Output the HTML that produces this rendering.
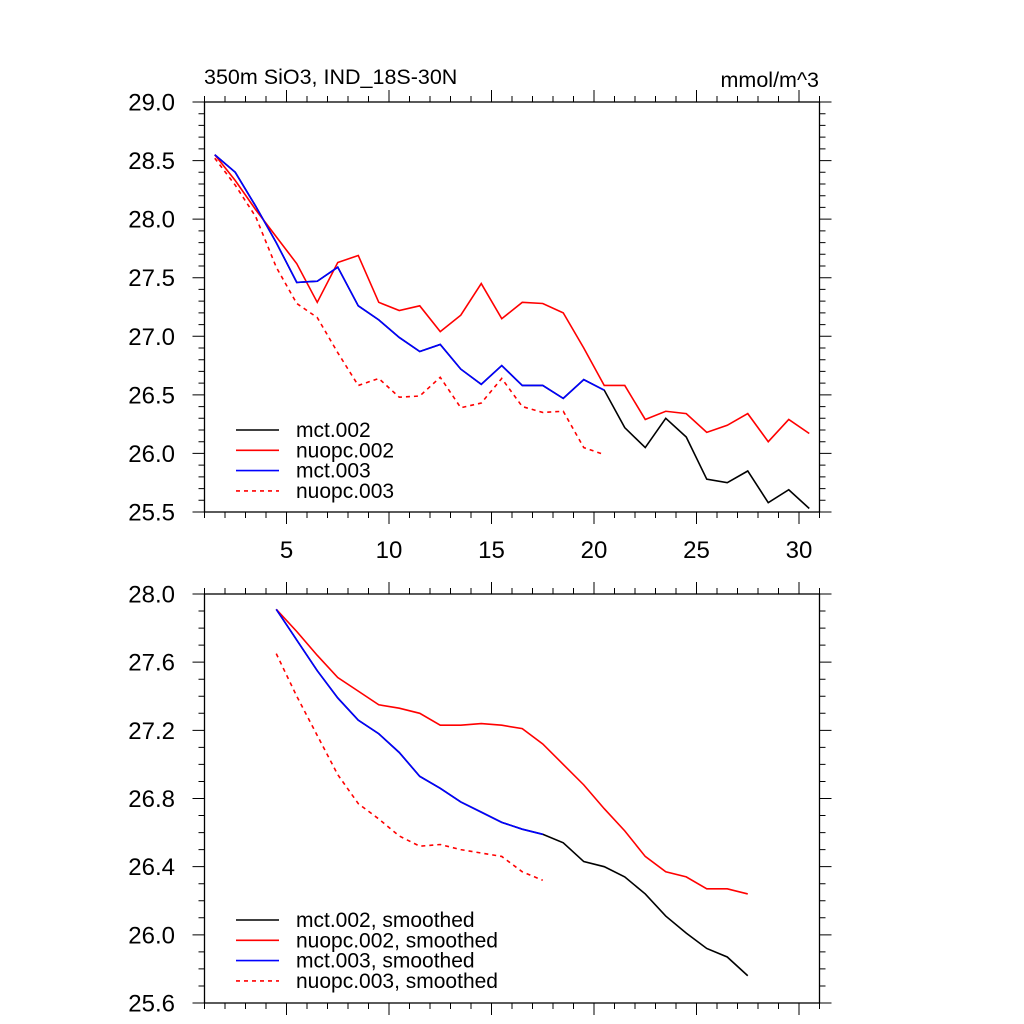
<!DOCTYPE html>
<html><head><meta charset="utf-8"><style>
html,body{margin:0;padding:0;background:#fff;}
svg{display:block;font-family:"Liberation Sans",Arial,sans-serif;}
</style></head><body>
<svg id="chart" width="1024" height="1024" viewBox="0 0 1024 1024" xmlns="http://www.w3.org/2000/svg">
<rect width="1024" height="1024" fill="#fff"/>
<text x="204" y="84" font-size="21.5">350m SiO3, IND_18S-30N</text>
<text x="819" y="87" font-size="21.5" text-anchor="end">mmol/m^3</text>
</svg>
<script>
const xTop = [];
for (let i = 0; i < 30; i++) xTop.push(1.5 + i);
const mct002 = [28.55,28.40,28.11,27.80,27.46,27.47,27.59,27.26,27.14,26.99,26.87,26.93,26.72,26.59,26.75,26.58,26.58,26.47,26.63,26.54,26.22,26.05,26.30,26.14,25.78,25.75,25.85,25.58,25.69,25.53];
const nuopc002 = [28.55,28.33,28.08,27.85,27.62,27.29,27.63,27.69,27.29,27.22,27.26,27.04,27.18,27.45,27.15,27.29,27.28,27.20,26.90,26.58,26.58,26.29,26.36,26.34,26.18,26.24,26.34,26.10,26.29,26.17];
const mct003 = [28.55,28.40,28.11,27.80,27.46,27.47,27.59,27.26,27.14,26.99,26.87,26.93,26.72,26.59,26.75,26.58,26.58,26.47,26.63,26.54];
const nuopc003 = [28.52,28.29,28.02,27.59,27.28,27.16,26.86,26.58,26.64,26.48,26.49,26.65,26.39,26.43,26.64,26.40,26.35,26.36,26.05,25.99];
const xBot = [];
for (let i = 0; i < 24; i++) xBot.push(4.5 + i);
const mct002s = [27.91,27.73,27.55,27.39,27.26,27.18,27.07,26.93,26.86,26.78,26.72,26.66,26.62,26.59,26.54,26.43,26.40,26.34,26.24,26.11,26.01,25.92,25.87,25.76];
const nuopc002s = [27.91,27.78,27.64,27.51,27.43,27.35,27.33,27.30,27.23,27.23,27.24,27.23,27.21,27.12,27.00,26.88,26.74,26.61,26.46,26.37,26.34,26.27,26.27,26.24];
const mct003s = [27.91,27.73,27.55,27.39,27.26,27.18,27.07,26.93,26.86,26.78,26.72,26.66,26.62,26.59];
const nuopc003s = [27.65,27.40,27.17,26.94,26.77,26.68,26.58,26.52,26.53,26.50,26.48,26.46,26.37,26.32];
const xTickLabels = ["5","10","15","20","25","30"];
const yTopTicks = ["25.5","26.0","26.5","27.0","27.5","28.0","28.5","29.0"];
const yBotTicks = ["25.6","26.0","26.4","26.8","27.2","27.6","28.0"];

const NS = "http://www.w3.org/2000/svg";
const svg = document.getElementById("chart");
function mk(tag, attrs, parent) {
  const e = document.createElementNS(NS, tag);
  for (const k in attrs) e.setAttribute(k, attrs[k]);
  (parent || svg).appendChild(e);
  return e;
}
const L = 204.5, R = 819.5, X0 = 1, X1 = 31;
function sx(v) { return L + (v - X0) / (X1 - X0) * (R - L); }

function panel(name, top, bot, y0, y1, yTicks, majorStep, showX, series, legend) {
  const sy = v => bot - (v - y0) / (y1 - y0) * (bot - top);
  const g = mk("g", {});
  
  
  let d = "";
  for (let v = 1; v <= 31; v++) {
    const x = sx(v); const len = (v % 5 === 0) ? 12 : 6;
    d += `M${x},${bot}v${len}M${x},${top}v${-len}`;
  }
  const nMinor = Math.round((y1 - y0) / 0.1);
  for (let i = 0; i <= nMinor; i++) {
    const v = y0 + i * 0.1; const y = sy(v);
    const major = Math.abs((v - y0) / majorStep - Math.round((v - y0) / majorStep)) < 1e-6;
    const len = major ? 12 : 6;
    d += `M${L},${y}h${-len}M${R},${y}h${len}`;
  }
  const t = mk("path", {d: d, stroke: "#000", "stroke-width": 1, fill: "none"}, g);
  
  
  const fr = mk("rect", {x: L, y: top, width: R - L, height: bot - top, fill: "none", stroke: "#000", "stroke-width": 1.3}, g);
  
  
  yTicks.forEach(s => {
    const tx = mk("text", {x: 175, y: sy(parseFloat(s)) + 8.5, "font-size": 24, "text-anchor": "end"}, g);
    tx.textContent = s;
    
    
  });
  if (showX) xTickLabels.forEach(s => {
    const tx = mk("text", {x: sx(parseFloat(s)), y: bot + 46, "font-size": 24, "text-anchor": "middle"}, g);
    tx.textContent = s;
    
    
  });
  series.forEach(s => {
    const pts = s.vals.map((v, i) => sx(s.xs[i]) + "," + sy(v)).join(" ");
    const p = mk("polyline", {points: pts, fill: "none", stroke: s.color, "stroke-width": 1.6, "stroke-dasharray": s.dash ? "4,4" : "none", "stroke-linejoin": "miter"}, g);
    
    
  });
  legend.rows.forEach((r, i) => {
    const y = legend.y + i * 20.3;
    const ln = mk("line", {x1: 236, x2: 279, y1: y, y2: y, stroke: r.color, "stroke-width": 1.6, "stroke-dasharray": r.dash ? "4,4" : "none"}, g);
    
    
    const tx = mk("text", {x: 296, y: y + 7, "font-size": 21}, g);
    tx.textContent = r.label;
    
    
  });
}
panel("top-panel", 102, 512, 25.5, 29.0, yTopTicks, 0.5, true, [
  {name: "line-mct-002", xs: xTop, vals: mct002, color: "#000"},
  {name: "line-nuopc-002", xs: xTop, vals: nuopc002, color: "#f00"},
  {name: "line-mct-003", xs: xTop, vals: mct003, color: "#00f"},
  {name: "line-nuopc-003", xs: xTop, vals: nuopc003, color: "#f00", dash: true}
], {y: 430, rows: [
  {label: "mct.002", color: "#000"}, {label: "nuopc.002", color: "#f00"},
  {label: "mct.003", color: "#00f"}, {label: "nuopc.003", color: "#f00", dash: true}]});
panel("bottom-panel", 594, 1003, 25.6, 28.0, yBotTicks, 0.4, false, [
  {name: "line-mct-002-smoothed", xs: xBot, vals: mct002s, color: "#000"},
  {name: "line-nuopc-002-smoothed", xs: xBot, vals: nuopc002s, color: "#f00"},
  {name: "line-mct-003-smoothed", xs: xBot, vals: mct003s, color: "#00f"},
  {name: "line-nuopc-003-smoothed", xs: xBot, vals: nuopc003s, color: "#f00", dash: true}
], {y: 920, rows: [
  {label: "mct.002, smoothed", color: "#000"}, {label: "nuopc.002, smoothed", color: "#f00"},
  {label: "mct.003, smoothed", color: "#00f"}, {label: "nuopc.003, smoothed", color: "#f00", dash: true}]});
</script>
</body></html>
